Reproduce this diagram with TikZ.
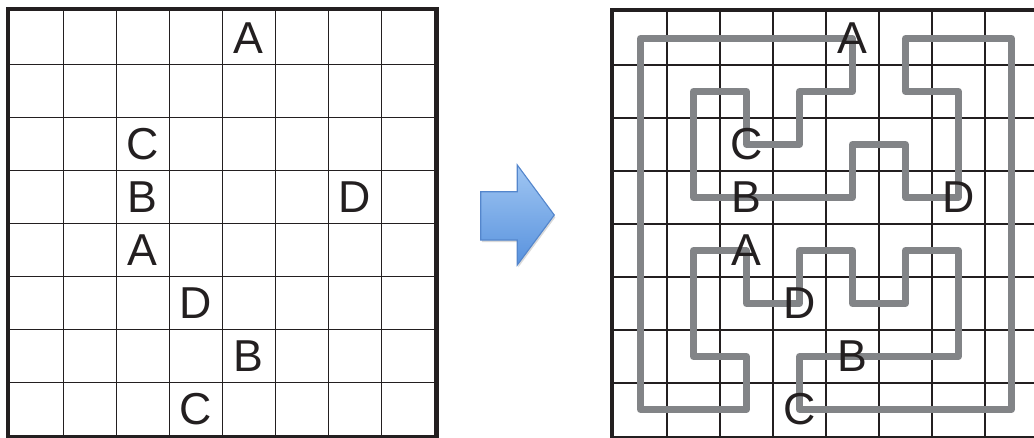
\documentclass[tikz,border=0pt]{standalone}
\usepackage{fontspec}
\setmainfont{Liberation Sans}
\usepackage{xcolor}
\usepackage{tikz}
\usetikzlibrary{shadows}
\definecolor{pretograde}{RGB}{35,31,32}
\definecolor{cinzacaminho}{RGB}{130,132,135}
\definecolor{azulclaro}{RGB}{160,198,242}
\definecolor{azulmedio}{RGB}{88,146,222}
\definecolor{azulescuro}{RGB}{84,134,204}
\tikzset{
  letra/.style={inner sep=0pt,font=\fontsize{24}{24}\selectfont,text=pretograde},
  grade/.style={pretograde,line width=0.65pt},
  moldura/.style={pretograde,line width=2.4pt},
  caminho/.style={cinzacaminho,line width=3.7pt,line join=round,line cap=round},
  seta/.style={draw=azulescuro,line width=0.6pt,top color=azulclaro,bottom color=azulmedio,
    drop shadow={opacity=0.3,shadow xshift=0.6pt,shadow yshift=-1.2pt}}
}
\begin{document}
\begin{tikzpicture}[x=1cm,y=-1cm]
\useasboundingbox (0,0) rectangle (19.509,8.245);
% grade da esquerda
\begin{scope}[shift={(0.192,0.213)}]
  \foreach \i in {1,...,7} {
    \draw[grade] (\i,0) -- (\i,8);
    \draw[grade] (0,\i) -- (8,\i);
  }
  \draw[moldura] (-0.04,-0.04) rectangle (8.04,8.04);
  \node[letra] (ea1) at (4.5,0.5) {A};
  \node[letra] (ec1) at (2.5,2.5) {C};
  \node[letra] (eb1) at (2.5,3.5) {B};
  \node[letra] (ed1) at (6.5,3.5) {D};
  \node[letra] (ea2) at (2.5,4.5) {A};
  \node[letra] (ed2) at (3.5,5.5) {D};
  \node[letra] (eb2) at (4.5,6.5) {B};
  \node[letra] (ec2) at (3.5,7.5) {C};
\end{scope}
% seta
\draw[seta] (9.07,3.617) -- (9.76,3.617) -- (9.76,3.113) -- (10.458,4.057)
  -- (9.76,5.0) -- (9.76,4.528) -- (9.07,4.528) -- cycle;
% grade da direita
\begin{scope}[shift={(11.583,0.225)}]
  \foreach \i in {1,...,7} {
    \draw[grade] (\i,0) -- (\i,8);
    \draw[grade] (0,\i) -- (8,\i);
  }
  \draw[moldura] (-0.04,-0.04) rectangle (8.04,8.04);
  \begin{scope}[shift={(0.5,0.5)}]
    \draw[caminho] (4,0) -- (0,0) -- (0,7) -- (2,7) -- (2,6) -- (1,6) -- (1,4)
      -- (2,4) -- (2,5) -- (3,5) -- (3,4) -- (4,4) -- (4,5) -- (5,5) -- (5,4)
      -- (6,4) -- (6,6) -- (3,6) -- (3,7) -- (7,7) -- (7,0) -- (5,0) -- (5,1)
      -- (6,1) -- (6,3) -- (5,3) -- (5,2) -- (4,2) -- (4,3) -- (1,3) -- (1,1)
      -- (2,1) -- (2,2) -- (3,2) -- (3,1) -- (4,1) -- cycle;
  \end{scope}
  \node[letra] (da1) at (4.5,0.5) {A};
  \node[letra] (dc1) at (2.5,2.5) {C};
  \node[letra] (db1) at (2.5,3.5) {B};
  \node[letra] (dd1) at (6.5,3.5) {D};
  \node[letra] (da2) at (2.5,4.5) {A};
  \node[letra] (dd2) at (3.5,5.5) {D};
  \node[letra] (db2) at (4.5,6.5) {B};
  \node[letra] (dc2) at (3.5,7.5) {C};
\end{scope}
\end{tikzpicture}
\end{document}
